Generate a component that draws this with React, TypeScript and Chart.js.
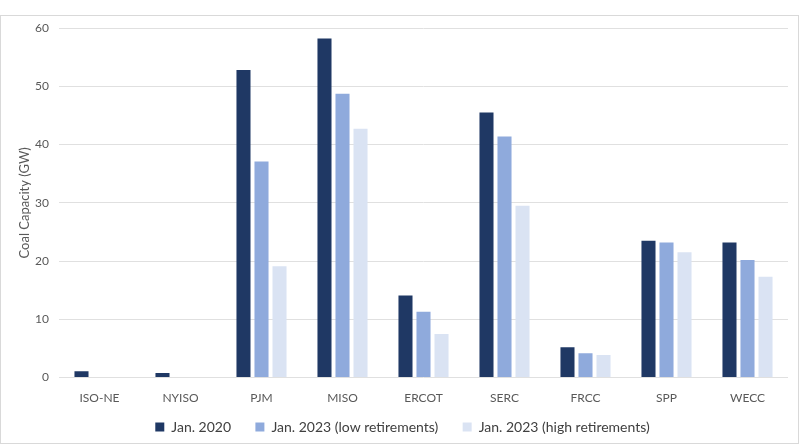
import React, { useEffect, useRef } from "react";
import { Chart, registerables } from "chart.js";

Chart.register(...registerables);

const categories = ["ISO-NE", "NYISO", "PJM", "MISO", "ERCOT", "SERC", "FRCC", "SPP", "WECC"];
const seriesNames = ["Jan. 2020", "Jan. 2023 (low retirements)", "Jan. 2023 (high retirements)"];
const jan2020 = [1.1, 0.8, 52.8, 58.2, 14.1, 45.5, 5.2, 23.5, 23.2];
const jan2023Low = [0, 0, 37.1, 48.7, 11.3, 41.4, 4.2, 23.2, 20.2];
const jan2023High = [0, 0, 19.1, 42.7, 7.5, 29.5, 3.9, 21.5, 17.3];
const yTicks = [0, 10, 20, 30, 40, 50, 60];
const colors = ["#1F3864", "#8FAADC", "#DAE3F3"];

export default function App() {
  const ref = useRef<HTMLCanvasElement | null>(null);
  useEffect(() => {
    document.body.style.margin = "0";
    const ctx = ref.current;
    if (!ctx) return;
    const font = "Lato, 'Open Sans', sans-serif";
    const chart = new Chart(ctx, {
      type: "bar",
      data: {
        labels: categories,
        datasets: [jan2020, jan2023Low, jan2023High].map((d, i) => ({
          label: seriesNames[i],
          data: d,
          backgroundColor: colors[i],
          borderWidth: 0,
          categoryPercentage: 0.667,
          barPercentage: 0.78,
        })),
      },
      options: {
        animation: false,
        responsive: false,
        maintainAspectRatio: false,
        layout: { padding: { top: 28, right: 12, bottom: 0, left: 17 } },
        plugins: {
          legend: {
            position: "bottom",
            labels: {
              boxWidth: 9,
              boxHeight: 9,
              padding: 10,
              color: "#404040",
              font: { family: font, size: 14 },
              generateLabels: (c: any) => {
                const items = Chart.defaults.plugins.legend.labels.generateLabels(c);
                return items.map((it: any, i: number) => ({
                  ...it,
                  text: i < items.length - 1 ? it.text + "    " : it.text,
                  lineWidth: 0,
                }));
              },
            },
          },
          tooltip: { enabled: false },
        },
        scales: {
          x: {
            grid: { display: false },
            border: { display: false },
            ticks: { color: "#595959", font: { family: font, size: 12 }, padding: 5 },
          },
          y: {
            min: 0,
            max: 60,
            afterBuildTicks: (s: any) => {
              s.ticks = yTicks.map((v) => ({ value: v }));
            },
            afterFit: (s: any) => {
              s.width = 42;
            },
            grid: { color: "#e0e0e0", lineWidth: 1, drawTicks: false },
            border: { display: false },
            ticks: { color: "#595959", font: { family: font, size: 12 }, padding: 10 },
            title: {
              display: true,
              text: "Coal Capacity (GW)",
              color: "#595959",
              font: { family: font, size: 13 },
              padding: 0,
            },
          },
        },
      },
    });
    return () => chart.destroy();
  }, []);
  return (
    <div style={{ position: "relative", width: 800, height: 444, background: "#fff" }}>
      <div
        style={{
          position: "absolute",
          left: 0,
          top: 15,
          width: 797,
          height: 427,
          border: "1px solid #d9d9d9",
        }}
      />
      <canvas ref={ref} width={800} height={444} style={{ position: "absolute", left: 0, top: 0 }} />
    </div>
  );
}
